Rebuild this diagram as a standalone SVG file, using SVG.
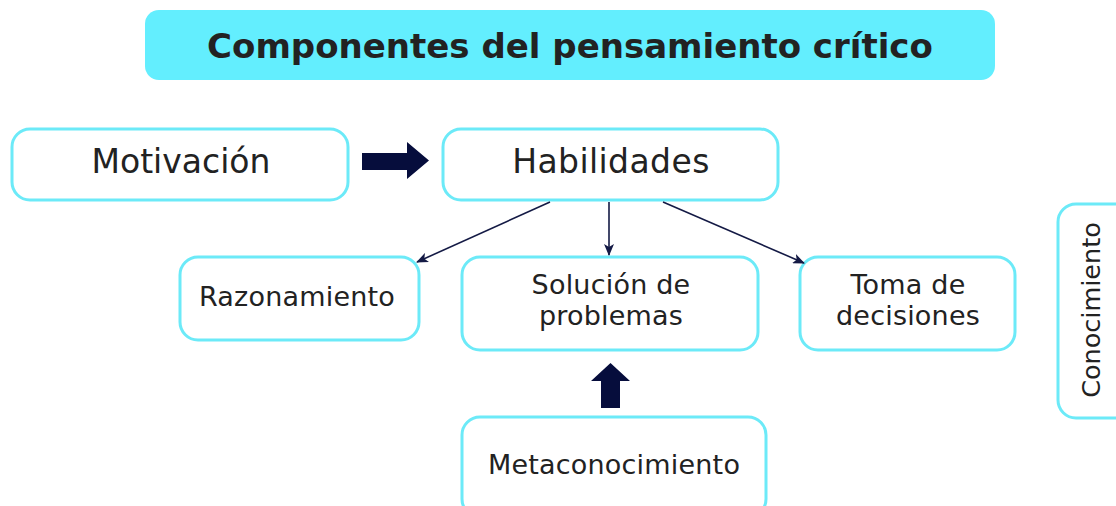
<svg xmlns="http://www.w3.org/2000/svg" width="1116" height="506" viewBox="0 0 1116 506">
<style>
.box{fill:#ffffff;stroke:#6ceaf8;stroke-width:3}
.t{font-family:"DejaVu Sans",Verdana,sans-serif;fill:#222222;text-anchor:middle}
.m{font-size:27px;letter-spacing:0.2px}
.ln{stroke:#141a45;stroke-width:1.6;fill:none}
.big{fill:#060d3c}
</style>
<defs>
<marker id="ah" viewBox="0 0 12 10" refX="11" refY="5" markerWidth="12" markerHeight="10" markerUnits="userSpaceOnUse" orient="auto">
<path d="M0,0 L12,5 L0,10 L3,5 z" fill="#141a45"/>
</marker>
</defs>
<rect width="1116" height="506" fill="#ffffff"/>
<g id="title">
<rect x="145" y="10" width="850" height="70" rx="14" fill="#63eefe"/>
<text class="t" x="570" y="58" font-size="34" font-weight="bold">Componentes del pensamiento crítico</text>
</g>
<g id="motivacion">
<rect class="box" x="12" y="129" width="336" height="71" rx="18"/>
<text class="t" x="181" y="173" font-size="33">Motivación</text>
</g>
<g id="habilidades">
<rect class="box" x="443" y="129" width="335" height="71" rx="18"/>
<text class="t" x="611" y="173" font-size="33" letter-spacing="0.4">Habilidades</text>
</g>
<g id="razonamiento">
<rect class="box" x="180" y="257" width="239" height="83" rx="18"/>
<text class="t m" x="297" y="306">Razonamiento</text>
</g>
<g id="solucion">
<rect class="box" x="462" y="257" width="296" height="93" rx="18"/>
<text class="t m" x="611" y="294">Solución de</text>
<text class="t m" x="611" y="325">problemas</text>
</g>
<g id="toma">
<rect class="box" x="800" y="257" width="215" height="93" rx="18"/>
<text class="t m" x="908" y="294">Toma de</text>
<text class="t m" x="908" y="325">decisiones</text>
</g>
<g id="conocimiento">
<rect class="box" x="1058" y="204" width="80" height="214" rx="18"/>
<text class="t" x="0" y="0" font-size="25.5" transform="translate(1100 310) rotate(-90)">Conocimiento</text>
</g>
<g id="metaconocimiento">
<rect class="box" x="462" y="417" width="304" height="100" rx="18"/>
<text class="t m" x="614" y="474">Metaconocimiento</text>
</g>
<g id="connectors">
<path class="big" d="M362,153 L407,153 L407,142 L429,160.5 L407,179 L407,170 L362,170 z"/>
<path class="big" d="M601,408 L601,381 L591,381 L610.5,363 L630,381 L620,381 L620,408 z"/>
<line class="ln" x1="550" y1="202" x2="417" y2="262" marker-end="url(#ah)"/>
<line class="ln" x1="609" y1="202" x2="609" y2="255" marker-end="url(#ah)"/>
<line class="ln" x1="663" y1="202" x2="804" y2="263" marker-end="url(#ah)"/>
</g>
</svg>
